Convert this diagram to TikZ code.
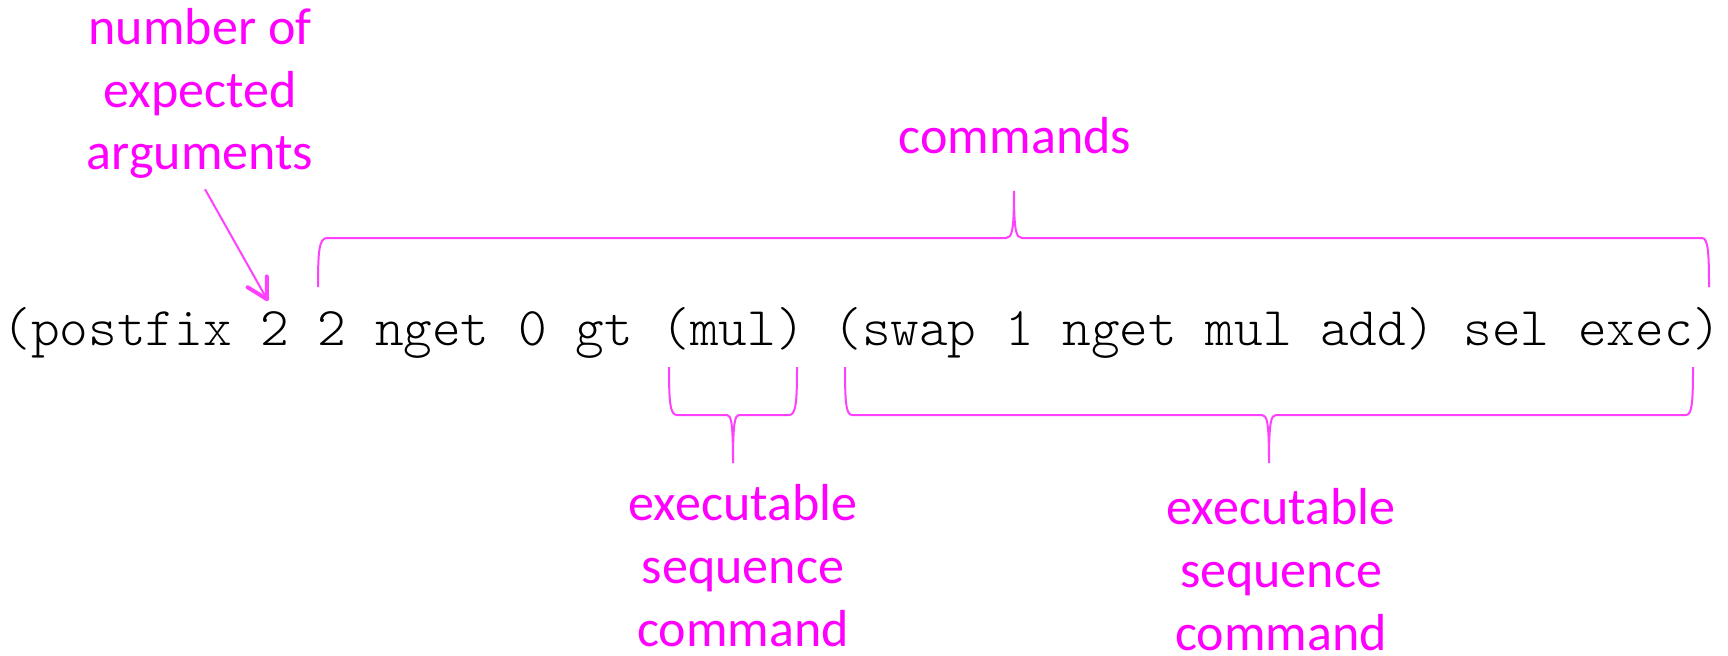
\documentclass[tikz,border=0pt]{standalone}
\usepackage{fontspec}
\setsansfont{Carlito}
\setmonofont{Latin Modern Mono Light}
\usepackage{tikz}
\usetikzlibrary{arrows.meta}
\definecolor{lblpink}{RGB}{255,0,255}
\definecolor{linepink}{RGB}{255,64,255}

\begin{document}
\begin{tikzpicture}[x=0.025cm,y=-0.025cm]
\tikzstyle{note} = [text=lblpink,font=\fontsize{37}{44.8}\selectfont\sffamily,align=center,inner sep=0,anchor=base];
\tikzstyle{curly} = [draw=linepink,line width=0.05cm];
\tikzstyle{pointer} = [draw=linepink,line width=0.05cm,-{Straight Barb[length=0.5cm,width=0.55cm,line width=0.1cm,round]}];

\useasboundingbox (0,0) rectangle (1728,656);

\node[inner sep=0,anchor=base,font=\fontsize{38.8}{46}\selectfont\ttfamily] (code) at (862,345) {(postfix 2 2 nget 0 gt (mul) (swap 1 nget mul add) sel exec)};

\node[note] (args) at (200,170) {number of\\expected\\arguments};
\node[note] (cmds) at (1015,154) {commands};
\node[note] (execA) at (743,646) {executable\\sequence\\command};
\node[note] (execB) at (1281,650) {executable\\sequence\\command};

% arrow to the argument count
\coordinate (argc) at (268,301);
\draw[pointer] ([xshift=0.125cm,yshift=-0.25cm]args.south) -- (argc);

% commands
\draw[curly] (318,287) .. controls (318,252) and (319,238) .. (327,238) -- (1006,238) .. controls (1012,238) and (1014,231) .. (1014,191) .. controls (1014,231) and (1016,238) .. (1022,238) -- (1702,238) .. controls (1708,238) and (1709,252) .. (1709,287);
% (mul)
\draw[curly] (669,367) .. controls (669,402) and (670,415) .. (677,415) -- (727,415) .. controls (731,415) and (733,422) .. (733,463) .. controls (733,422) and (735,415) .. (739,415) -- (789,415) .. controls (796,415) and (797,402) .. (797,367);
% (swap ...)
\draw[curly] (845,367) .. controls (845,402) and (846,415) .. (852,415) -- (1262,415) .. controls (1267,415) and (1269,422) .. (1269,463) .. controls (1269,422) and (1271,415) .. (1276,415) -- (1686,415) .. controls (1692,415) and (1693,402) .. (1693,367);

\end{tikzpicture}
\end{document}
